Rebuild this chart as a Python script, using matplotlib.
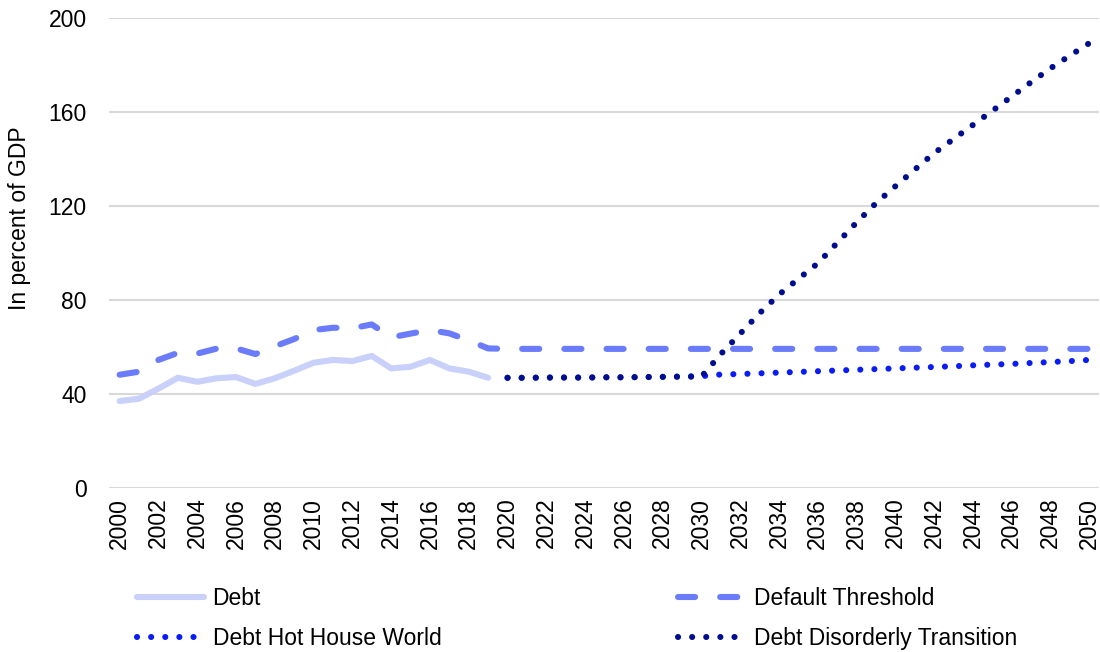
import matplotlib
matplotlib.use("Agg")
import matplotlib.pyplot as plt
from matplotlib.lines import Line2D

plt.rcParams['font.family'] = ['Liberation Sans', 'DejaVu Sans']

years_hist = list(range(2000, 2020))
debt = [37.0, 38.0, 42.3, 46.9, 45.2, 46.7, 47.2, 44.3, 46.7, 49.9,
        53.3, 54.5, 54.0, 56.2, 50.9, 51.6, 54.5, 50.9, 49.5, 46.9]

years_all = list(range(2000, 2051))
threshold = [48.2, 49.5, 54.5, 57.5, 57.2, 59.3, 59.4, 57.0, 60.3, 63.4,
             67.2, 68.2, 68.0, 69.6, 64.1, 65.7, 67.2, 65.8, 62.8, 59.4,
             59.2, 59.2, 59.2, 59.2, 59.2, 59.2, 59.2, 59.2, 59.2, 59.2,
             59.2, 59.2, 59.2, 59.2, 59.2, 59.2, 59.2, 59.2, 59.2, 59.2,
             59.2, 59.2, 59.2, 59.2, 59.2, 59.2, 59.2, 59.2, 59.2, 59.2, 59.2]

years_proj = list(range(2020, 2051))
hot_house = [46.9, 46.9, 47.0, 47.0, 47.0, 47.1, 47.1, 47.2, 47.3, 47.4,
             47.6, 48.3, 48.5, 48.8, 49.1, 49.4, 49.7, 50.0, 50.3, 50.6,
             50.9, 51.2, 51.5, 51.8, 52.2, 52.5, 52.8, 53.2, 53.6, 54.0, 54.5]
disorderly = [46.9, 46.9, 47.0, 47.0, 47.0, 47.1, 47.1, 47.2, 47.3, 47.4,
              47.4, 57.0, 65.7, 74.4, 82.3, 89.0, 95.6, 104.3, 113.0, 121.2,
              128.4, 135.5, 142.5, 148.5, 154.5, 160.5, 166.6, 172.7, 178.6, 184.0, 189.3]

xtick_years = list(range(2000, 2051, 2))
ytick_vals = [0, 40, 80, 120, 160, 200]

c_debt = '#c9d1fb'
c_thr = '#6b7cfb'
c_hot = '#0a1cf5'
c_dis = '#000e8e'

W, H = 1100, 652
fig = plt.figure(figsize=(11, 6.52), dpi=100)
ax = fig.add_axes([109/W, (H-488)/H, (1099-109)/W, (488-18)/H])

fs = 16.5
lw = 4.4
dot_style = (0, (0.01, 2.3))
dash_style = (0, (2.8, 4.1))

ax.plot(years_hist, debt, color=c_debt, lw=lw, solid_capstyle='round', solid_joinstyle='round', zorder=3)
ax.plot(years_all, threshold, color=c_thr, lw=lw, linestyle=dash_style, dash_capstyle='round', zorder=3)
ax.plot(years_proj, hot_house, color=c_hot, lw=lw, linestyle=dot_style, dash_capstyle='round', zorder=4)
ax.plot(years_proj, disorderly, color=c_dis, lw=lw, linestyle=dot_style, dash_capstyle='round', zorder=5)

ax.set_xlim(1999.45, 2050.5)
ax.set_ylim(0, 200)
ax.set_xticks(xtick_years)
ax.set_xticklabels([str(y) for y in xtick_years], rotation=90, fontsize=fs)
ax.set_yticks(ytick_vals)
ax.set_yticklabels([str(v) for v in ytick_vals], fontsize=fs)
ax.tick_params(axis='both', length=0)
ax.tick_params(axis='y', pad=16)
ax.tick_params(axis='x', pad=7)
ax.grid(axis='y', color='#d9d9d9', lw=1.5, zorder=0)
for s in ax.spines.values():
    s.set_visible(False)
fig.text(20/W, 1-218/H, 'In percent of GDP', rotation=90, ha='center', va='center', fontsize=fs)

h1 = [Line2D([], [], color=c_debt, lw=lw, solid_capstyle='round'),
      Line2D([], [], color=c_hot, lw=lw, linestyle=dot_style, dash_capstyle='round')]
h2 = [Line2D([], [], color=c_thr, lw=lw, linestyle=dash_style, dash_capstyle='round'),
      Line2D([], [], color=c_dis, lw=lw, linestyle=dot_style, dash_capstyle='round')]
common = dict(loc='upper left', frameon=False, fontsize=fs, handlelength=2.93,
              handletextpad=0.37, labelspacing=0.74, borderpad=0, borderaxespad=0)
fig.legend(h1, ['Debt', 'Debt Hot House World'], bbox_to_anchor=(137/W, 1-587/H), **common)
fig.legend(h2, ['Default Threshold', 'Debt Disorderly Transition'], bbox_to_anchor=(678/W, 1-587/H), **common)

fig.savefig('out.png', dpi=100)
